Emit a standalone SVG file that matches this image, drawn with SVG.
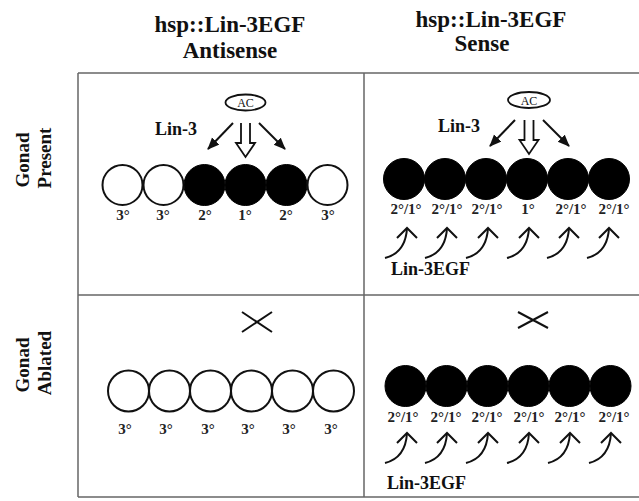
<svg xmlns="http://www.w3.org/2000/svg" width="639" height="501" viewBox="0 0 639 501" font-family="'Liberation Serif', 'Times New Roman', 'DejaVu Serif', serif">
<defs>
<style>
text{font-family:'Liberation Serif','Times New Roman','DejaVu Serif',serif}
.grid{stroke:#666;stroke-width:1.5;fill:none}
.hdr{font-weight:bold;font-size:23px;fill:#111;text-anchor:middle}
.side{font-weight:bold;font-size:19px;fill:#111;text-anchor:middle}
.lbl{font-weight:bold;font-size:15px;fill:#222;text-anchor:middle}
.big{font-weight:bold;font-size:18px;fill:#111}
.ac{font-size:12px;fill:#111;text-anchor:middle}
.wc{fill:#fff;stroke:#111;stroke-width:2}
.bc{fill:#000;stroke:#000;stroke-width:1}
.ln{stroke:#111;stroke-width:2;fill:none}
.arr{stroke:#111;stroke-width:2;fill:none;marker-end:url(#head)}
.hollow{stroke:#111;stroke-width:1.8;fill:#fff;stroke-linejoin:miter}
</style>
<marker id="head" markerUnits="userSpaceOnUse" markerWidth="14" markerHeight="12" refX="11" refY="5" orient="auto">
<path d="M0,0 L12,5 L0,10 Z" fill="#111"/>
</marker>
<g id="curv">
<path d="M-22,30 C-10,27 -1,18 0,0" class="ln"/>
<path d="M-10,10 L0,0 L10,10" class="ln"/>
</g>
</defs>
<rect width="639" height="501" fill="#fff"/>

<g id="grid">
<line x1="78" y1="73" x2="639" y2="73" class="grid"/>
<line x1="78" y1="295" x2="639" y2="295" class="grid"/>
<line x1="78" y1="497" x2="639" y2="497" class="grid"/>
<line x1="78" y1="73" x2="78" y2="497" class="grid"/>
<line x1="364" y1="73" x2="364" y2="497" class="grid"/>
</g>

<g id="headers">
<text x="230" y="32" class="hdr">hsp::Lin-3EGF</text>
<text x="230" y="58" class="hdr">Antisense</text>
<text x="491" y="27" class="hdr">hsp::Lin-3EGF</text>
<text x="482" y="51" class="hdr">Sense</text>
<text transform="translate(29,160) rotate(-90)" class="side">Gonad</text>
<text transform="translate(51,158) rotate(-90)" class="side">Present</text>
<text transform="translate(29,365) rotate(-90)" class="side">Gonad</text>
<text transform="translate(51,363) rotate(-90)" class="side">Ablated</text>
</g>

<g id="panel-antisense-present">
<ellipse cx="245.5" cy="102.5" rx="20" ry="8" fill="#fff" stroke="#111" stroke-width="1.8"/>
<text x="245.5" y="107" class="ac">AC</text>
<text x="155" y="135" class="big">Lin-3</text>
<circle cx="122.5" cy="185" r="20" class="wc"/>
<circle cx="163.5" cy="185" r="20" class="wc"/>
<circle cx="204.5" cy="185" r="20.5" class="bc"/>
<circle cx="245.5" cy="185" r="20.5" class="bc"/>
<circle cx="286.5" cy="185" r="20.5" class="bc"/>
<circle cx="327.5" cy="185" r="20" class="wc"/>
<text x="123" y="220" class="lbl">3°</text>
<text x="163" y="220" class="lbl">3°</text>
<text x="205" y="220" class="lbl">2°</text>
<text x="245" y="220" class="lbl">1°</text>
<text x="286" y="220" class="lbl">2°</text>
<text x="328" y="220" class="lbl">3°</text>
</g>

<g id="panel-sense-present">
<ellipse cx="529" cy="100" rx="21" ry="8" fill="#fff" stroke="#111" stroke-width="1.8"/>
<text x="529" y="104.5" class="ac">AC</text>
<text x="438" y="132" class="big">Lin-3</text>
<circle cx="404" cy="179" r="20.5" class="bc"/>
<circle cx="445" cy="179" r="20.5" class="bc"/>
<circle cx="486" cy="179" r="20.5" class="bc"/>
<circle cx="527" cy="179" r="20.5" class="bc"/>
<circle cx="568" cy="179" r="20.5" class="bc"/>
<circle cx="609" cy="179" r="20.5" class="bc"/>
<text x="406" y="214" class="lbl">2°/1°</text>
<text x="447" y="214" class="lbl">2°/1°</text>
<text x="487" y="214" class="lbl">2°/1°</text>
<text x="528" y="214" class="lbl">1°</text>
<text x="571" y="214" class="lbl">2°/1°</text>
<text x="614" y="214" class="lbl">2°/1°</text>
<use href="#curv" x="407" y="228"/>
<use href="#curv" x="447" y="228"/>
<use href="#curv" x="488" y="228"/>
<use href="#curv" x="529" y="228"/>
<use href="#curv" x="569" y="228"/>
<use href="#curv" x="609" y="228"/>
<text x="391" y="275" class="big">Lin-3EGF</text>
</g>

<g id="panel-antisense-ablated">
<path d="M242,312 L272,332 M242,332 L272,312" class="ln"/>
<circle cx="128.5" cy="391" r="20.5" class="wc"/>
<circle cx="169.5" cy="391" r="20.5" class="wc"/>
<circle cx="210.5" cy="391" r="20.5" class="wc"/>
<circle cx="251.5" cy="391" r="20.5" class="wc"/>
<circle cx="292.5" cy="391" r="20.5" class="wc"/>
<circle cx="333.5" cy="391" r="20.5" class="wc"/>
<text x="125" y="434" class="lbl">3°</text>
<text x="166" y="434" class="lbl">3°</text>
<text x="208" y="434" class="lbl">3°</text>
<text x="248" y="434" class="lbl">3°</text>
<text x="289" y="434" class="lbl">3°</text>
<text x="331" y="434" class="lbl">3°</text>
</g>

<g id="panel-sense-ablated">
<path d="M518,312 L548,328 M518,328 L548,312" class="ln"/>
<circle cx="405.5" cy="386" r="20.5" class="bc"/>
<circle cx="446.5" cy="386" r="20.5" class="bc"/>
<circle cx="487.5" cy="386" r="20.5" class="bc"/>
<circle cx="528.5" cy="386" r="20.5" class="bc"/>
<circle cx="569.5" cy="386" r="20.5" class="bc"/>
<circle cx="610.5" cy="386" r="20.5" class="bc"/>
<text x="403" y="422" class="lbl">2°/1°</text>
<text x="446" y="422" class="lbl">2°/1°</text>
<text x="487" y="422" class="lbl">2°/1°</text>
<text x="529" y="422" class="lbl">2°/1°</text>
<text x="570" y="422" class="lbl">2°/1°</text>
<text x="614" y="422" class="lbl">2°/1°</text>
<use href="#curv" x="407" y="433"/>
<use href="#curv" x="447" y="433"/>
<use href="#curv" x="488" y="433"/>
<use href="#curv" x="529" y="433"/>
<use href="#curv" x="570" y="433"/>
<use href="#curv" x="611" y="433"/>
<text x="387" y="489" class="big">Lin-3EGF</text>
</g>

<g id="connectors">
<line x1="233" y1="123" x2="208" y2="149" class="arr"/>
<line x1="259" y1="123" x2="285" y2="149" class="arr"/>
<path d="M241,123 V143 H236 L245.5,157 L255,143 H250 V123" class="hollow"/>
<line x1="515" y1="120" x2="490" y2="146" class="arr"/>
<line x1="543" y1="120" x2="569" y2="146" class="arr"/>
<path d="M524.5,120 V140 H519.5 L529,154 L538.5,140 H533.5 V120" class="hollow"/>
</g>
</svg>
